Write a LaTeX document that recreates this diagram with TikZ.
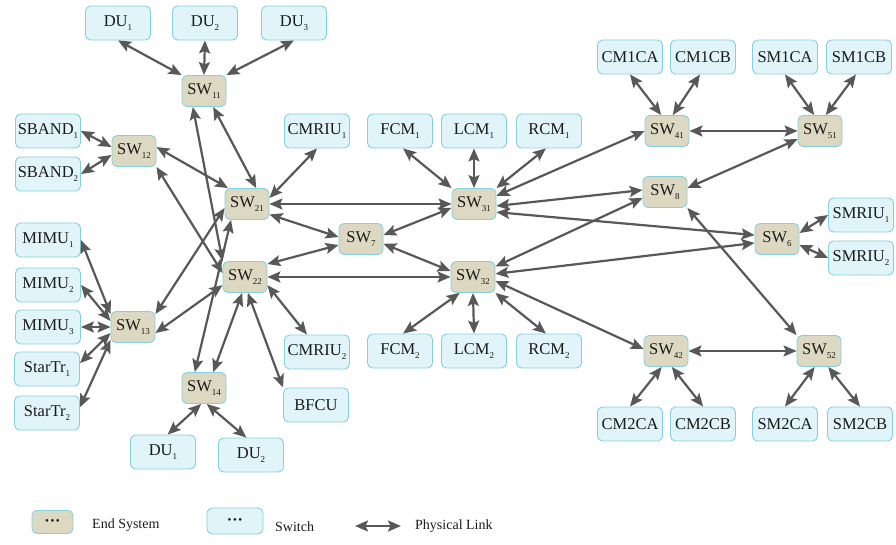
\documentclass[tikz,border=0pt]{standalone}
\usepackage{fontspec}
\setmainfont{Liberation Serif}
\usetikzlibrary{arrows.meta}
\definecolor{tanfill}{HTML}{DDD8C1}
\definecolor{boxedge}{HTML}{86D0DE}
\definecolor{leaffill}{HTML}{E1F4F9}
\definecolor{linkcol}{HTML}{585858}
\definecolor{txtcol}{HTML}{1A1A1A}
\newcommand{\lowsub}[1]{\raisebox{-0.55ex}{\fontsize{9}{9}\selectfont #1}}
\begin{document}
\begin{tikzpicture}[x=1pt,y=-1pt,
  swbox/.style={draw=boxedge, fill=tanfill, line width=0.9pt, rounded corners=5pt, minimum width=44pt, minimum height=31pt, inner sep=0pt, text=txtcol, font=\fontsize{16.5}{18}\selectfont},
  leafbox/.style={draw=boxedge, fill=leaffill, line width=0.9pt, rounded corners=5pt, minimum width=65pt, minimum height=34pt, inner sep=0pt, text=txtcol, font=\fontsize{16.5}{18}\selectfont},
  link/.style={draw=linkcol, line width=2.2pt, {Stealth[length=13pt,width=11pt,inset=2.5pt]}-{Stealth[length=13pt,width=11pt,inset=2.5pt]}},
  legtext/.style={anchor=west, inner sep=0pt, text=txtcol, font=\fontsize{14}{15}\selectfont},
]
\useasboundingbox (0,0) rectangle (896,545);

% ---- left part
\node[leafbox] (DUa) at (118,23) {DU\lowsub{1}};
\node[leafbox] (DUb) at (205,23) {DU\lowsub{2}};
\node[leafbox] (DUc) at (294,23) {DU\lowsub{3}};
\node[swbox] (SW11) at (204,91) {SW\lowsub{11}};
\node[leafbox] (SBANDa) at (48,131) {SBAND\lowsub{1}};
\node[leafbox] (SBANDb) at (48,174) {SBAND\lowsub{2}};
\node[swbox] (SW12) at (134,151) {SW\lowsub{12}};
\node[leafbox] (CMRIUa) at (317,131) {CMRIU\lowsub{1}};
\node[swbox] (SW21) at (247,204) {SW\lowsub{21}};
\node[swbox] (SW22) at (245,277) {SW\lowsub{22}};
\node[swbox] (SW7) at (361,239) {SW\lowsub{7}};
\node[leafbox] (MIMUa) at (48,240) {MIMU\lowsub{1}};
\node[leafbox] (MIMUb) at (48,285) {MIMU\lowsub{2}};
\node[leafbox] (MIMUc) at (48,327) {MIMU\lowsub{3}};
\node[leafbox] (STa) at (47,369) {StarTr\lowsub{1}};
\node[leafbox] (STb) at (47,413) {StarTr\lowsub{2}};
\node[swbox] (SW13) at (133,327) {SW\lowsub{13}};
\node[swbox] (SW14) at (204,388) {SW\lowsub{14}};
\node[leafbox] (DUd) at (163,452) {DU\lowsub{1}};
\node[leafbox] (DUe) at (251,455) {DU\lowsub{2}};
\node[leafbox] (CMRIUb) at (317,352) {CMRIU\lowsub{2}};
\node[leafbox] (BFCU) at (316,405) {BFCU};

% ---- middle
\node[leafbox] (FCMa) at (400,131) {FCM\lowsub{1}};
\node[leafbox] (LCMa) at (474,131) {LCM\lowsub{1}};
\node[leafbox] (RCMa) at (549,131) {RCM\lowsub{1}};
\node[swbox] (SW31) at (474,204) {SW\lowsub{31}};
\node[swbox] (SW32) at (473,277) {SW\lowsub{32}};
\node[leafbox] (FCMb) at (400,351) {FCM\lowsub{2}};
\node[leafbox] (LCMb) at (474,351) {LCM\lowsub{2}};
\node[leafbox] (RCMb) at (549,351) {RCM\lowsub{2}};

% ---- right
\node[leafbox] (CMACA) at (630,57) {CM1CA};
\node[leafbox] (CMACB) at (703,57) {CM1CB};
\node[leafbox] (SMACA) at (785,57) {SM1CA};
\node[leafbox] (SMACB) at (859,57) {SM1CB};
\node[swbox] (SW41) at (667,131) {SW\lowsub{41}};
\node[swbox] (SW51) at (820,131) {SW\lowsub{51}};
\node[swbox] (SW8) at (665,192) {SW\lowsub{8}};
\node[swbox] (SW6) at (777,239) {SW\lowsub{6}};
\node[leafbox] (SMRIUa) at (861,215) {SMRIU\lowsub{1}};
\node[leafbox] (SMRIUb) at (861,258) {SMRIU\lowsub{2}};
\node[swbox] (SW42) at (666,351) {SW\lowsub{42}};
\node[swbox] (SW52) at (819,351) {SW\lowsub{52}};
\node[leafbox] (CMBCA) at (630,424) {CM2CA};
\node[leafbox] (CMBCB) at (703,424) {CM2CB};
\node[leafbox] (SMBCA) at (785,424) {SM2CA};
\node[leafbox] (SMBCB) at (860,424) {SM2CB};

% ---- links left
\draw[link] (DUa.south) -- (SW11.north west);
\draw[link] (DUb.south) -- (SW11.north);
\draw[link] (DUc.south) -- (SW11.north east);
\draw[link] (SBANDa.east) -- (SW12.170);
\draw[link] (SBANDb.east) -- (SW12.190);
\draw[link] (SW12.10) -- (SW21.140);
\draw[link] (SW11.-60) -- (SW21.60);
\draw[link] (SW11.-125) -- (SW22.north west);
\draw[link] (SW12.south east) -- (SW22.170);
\draw[link] (SW14.120) -- (SW21.-135);
\draw[link] (SW13.30) -- (SW21.190);
\draw[link] (SW13.-15) -- (SW22.200);
\draw[link] (CMRIUa.south) -- (SW21.15);
\draw[link] (SW21.east) -- (SW31.west);
\draw[link] (SW21.-25) -- (SW7.175);
\draw[link] (SW22.30) -- (SW7.195);
\draw[link] (SW22.east) -- (SW32.west);
\draw[link] (SW22.-20) -- (CMRIUb.120);
\draw[link] (SW22.-80) -- (BFCU.north west);
\draw[link] (SW22.-100) -- (SW14.60);
\draw[link] (MIMUa.east) -- (SW13.150);
\draw[link] (MIMUb.east) -- (SW13.165);
\draw[link] (MIMUc.east) -- (SW13.west);
\draw[link] (STa.10) -- (SW13.195);
\draw[link] (STb.10) -- (SW13.210);
\draw[link] (SW14.-100) -- (DUd.75);
\draw[link] (SW14.-80) -- (DUe.105);

% ---- links middle
\draw[link] (SW7.10) -- (SW31.190);
\draw[link] (SW7.-12) -- (SW32.165);
\draw[link] (FCMa.-80) -- (SW31.north west);
\draw[link] (LCMa.south) -- (SW31.north);
\draw[link] (RCMa.-100) -- (SW31.north east);
\draw[link] (FCMb.80) -- (SW32.-130);
\draw[link] (LCMb.north) -- (SW32.south);
\draw[link] (RCMb.100) -- (SW32.south east);
\draw[link] (SW31.20) -- (SW41.west);
\draw[link] (SW31.-5) -- (SW8.175);
\draw[link] (SW31.-20) -- (SW6.170);
\draw[link] (SW32.25) -- (SW8.195);
\draw[link] (SW32.8) -- (SW6.190);
\draw[link] (SW32.-10) -- (SW42.175);

% ---- links right
\draw[link] (SW41.east) -- (SW51.west);
\draw[link] (SW51.200) -- (SW8.10);
\draw[link] (SW8.south east) -- (SW52.north west);
\draw[link] (SW42.east) -- (SW52.west);
\draw[link] (CMACA.south) -- (SW41.110);
\draw[link] (CMACB.-100) -- (SW41.70);
\draw[link] (SMACA.south) -- (SW51.110);
\draw[link] (SMACB.-100) -- (SW51.70);
\draw[link] (SMRIUa.west) -- (SW6.15);
\draw[link] (SMRIUb.west) -- (SW6.-15);
\draw[link] (CMBCA.north) -- (SW42.-105);
\draw[link] (CMBCB.north) -- (SW42.-70);
\draw[link] (SMBCA.north) -- (SW52.-105);
\draw[link] (SMBCB.north) -- (SW52.-60);

% ---- legend
\node[swbox, minimum width=41pt, minimum height=23pt, font=\fontsize{11}{12}\selectfont] (legES) at (52.5,522) {\textbullet\hspace{1.5pt}\textbullet\hspace{1.5pt}\textbullet};
\node[legtext] (legEStxt) at (92,525) {End System};
\node[leafbox, minimum width=56pt, minimum height=26pt, font=\fontsize{11}{12}\selectfont] (legSW) at (235,521) {\textbullet\hspace{1.5pt}\textbullet\hspace{1.5pt}\textbullet};
\node[legtext] (legSWtxt) at (275,527) {Switch};
\coordinate (legA) at (355,526);
\coordinate (legB) at (401,526);
\draw[link] (legA) -- (legB);
\node[legtext] (legPLtxt) at (415,526) {Physical Link};
\end{tikzpicture}
\end{document}
